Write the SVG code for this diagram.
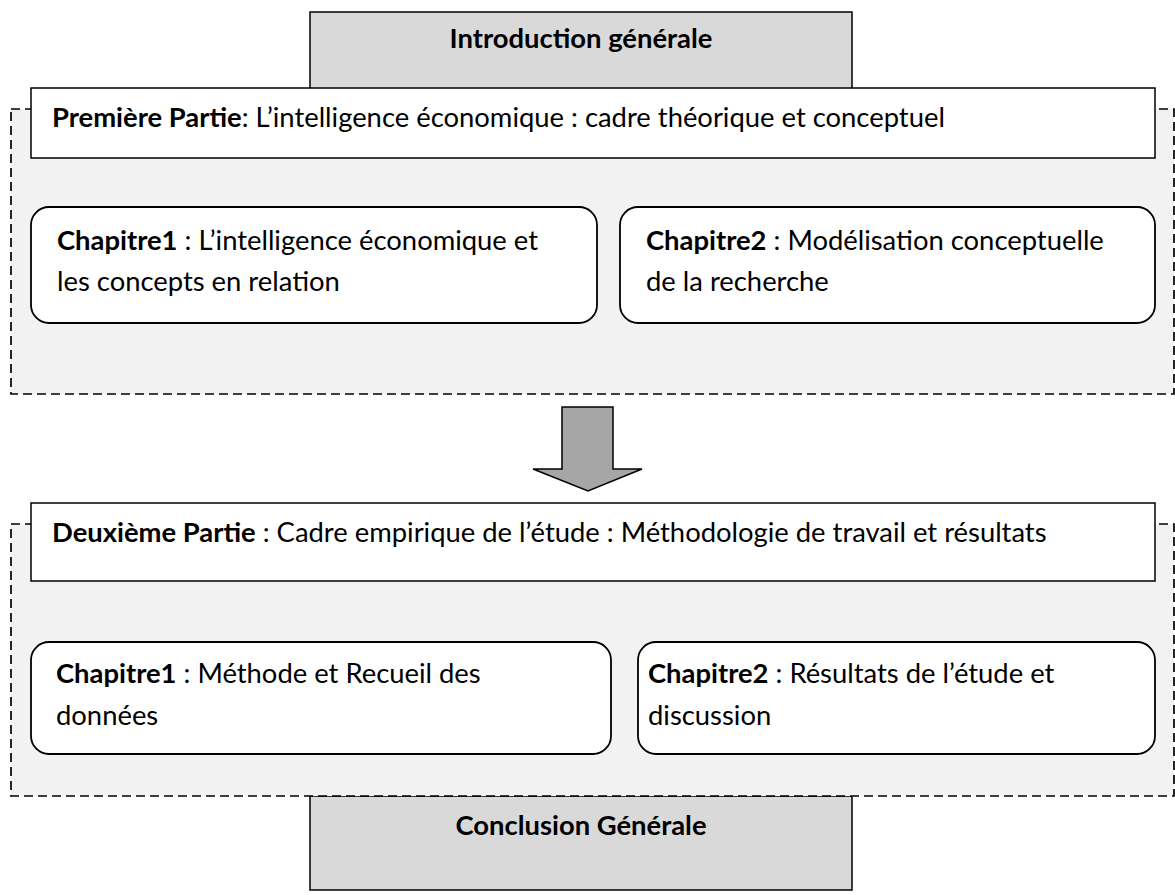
<svg xmlns="http://www.w3.org/2000/svg" width="1175" height="895" viewBox="0 0 1175 895">
  <style>
    text { font-family: Lato, "Open Sans", "Liberation Sans", sans-serif; font-size: 27.4px; fill: #000; }
    .b { font-weight: bold; }
    .mid { text-anchor: middle; }
    .cap { fill: #d9d9d9; stroke: #000; stroke-width: 1.5; }
    .part { fill: #f2f2f2; stroke: #000; stroke-width: 1.7; stroke-dasharray: 9 5; }
    .head { fill: #fff; stroke: #000; stroke-width: 1.5; }
    .chap { fill: #fff; stroke: #000; stroke-width: 1.8; }
    .flow { fill: #a6a6a6; stroke: #000; stroke-width: 1.5; stroke-linejoin: miter; }
  </style>

  <!-- opening block -->
  <g id="intro">
    <rect class="cap" x="310" y="12" width="542" height="90"/>
    <text class="b mid" x="581" y="48">Introduction générale</text>
  </g>

  <!-- part one -->
  <g id="part1">
    <rect class="part" x="11" y="109" width="1163" height="285"/>
    <rect class="head" x="31" y="88" width="1124" height="70"/>
    <text x="52" y="127"><tspan class="b">Première Partie</tspan>: L’intelligence économique : cadre théorique et conceptuel</text>
  </g>
  <g id="p1-ch1">
    <rect class="chap" x="31" y="207" width="566" height="116" rx="18"/>
    <text x="57" y="250"><tspan class="b">Chapitre1</tspan> : L’intelligence économique et</text>
    <text x="57" y="291">les concepts en relation</text>
  </g>
  <g id="p1-ch2">
    <rect class="chap" x="620" y="207" width="535" height="116" rx="18"/>
    <text x="646" y="250"><tspan class="b">Chapitre2</tspan> : Modélisation conceptuelle</text>
    <text x="646" y="291">de la recherche</text>
  </g>

  <!-- link between the parts -->
  <g id="connectors">
    <path class="flow" d="M562,407 H613 V469 H642 L588,491 L533,469 H562 Z"/>
  </g>

  <!-- closing block (under the dashed frame of part two) -->
  <g id="conclusion">
    <rect class="cap" x="310" y="796" width="542" height="94"/>
    <text class="b mid" x="581" y="835">Conclusion Générale</text>
  </g>

  <!-- part two -->
  <g id="part2">
    <rect class="part" x="11" y="524" width="1163" height="272"/>
    <rect class="head" x="31" y="503" width="1124" height="78"/>
    <text x="52" y="542"><tspan class="b">Deuxième Partie</tspan> : Cadre empirique de l’étude : Méthodologie de travail et résultats</text>
  </g>
  <g id="p2-ch1">
    <rect class="chap" x="31" y="642" width="580" height="112" rx="18"/>
    <text x="56" y="683"><tspan class="b">Chapitre1</tspan> : Méthode et Recueil des</text>
    <text x="56" y="725">données</text>
  </g>
  <g id="p2-ch2">
    <rect class="chap" x="638" y="642" width="517" height="112" rx="18"/>
    <text x="648" y="683"><tspan class="b">Chapitre2</tspan> : Résultats de l’étude et</text>
    <text x="648" y="725">discussion</text>
  </g>
</svg>
